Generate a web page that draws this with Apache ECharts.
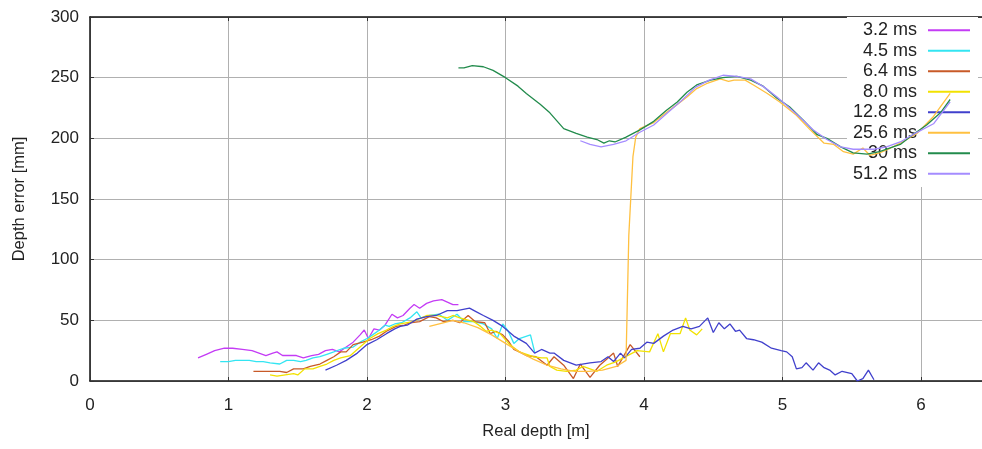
<!DOCTYPE html>
<html>
<head>
<meta charset="utf-8">
<script src="https://cdn.jsdelivr.net/npm/echarts@6/dist/echarts.min.js"></script>
<style>
  html, body { margin: 0; padding: 0; background: #fff; }
  #chart { width: 982px; height: 449px; }
</style>
</head>
<body>
<div id="chart"></div>
<script>
// exposure times (legend)
var names = ['3.2 ms', '4.5 ms', '6.4 ms', '8.0 ms', '12.8 ms', '25.6 ms', '30 ms', '51.2 ms'];
var colors = ['#c43cf5', '#33e5f2', '#c85a28', '#f2e200', '#4040cc', '#ffc040', '#228b4c', '#a58cff'];
var xTicks = [0, 1, 2, 3, 4, 5, 6];
var yTicks = [0, 50, 100, 150, 200, 250, 300];

// [real depth m, depth error mm]
var d32 = [[0.78,19],[0.84,22],[0.9,25],[0.97,27],[1.03,27],[1.1,26],[1.17,25],[1.22,23],[1.27,21],[1.32,23],[1.35,24],[1.39,21],[1.44,21],[1.49,21],[1.54,19],[1.6,21],[1.65,22],[1.7,25],[1.75,26],[1.8,24],[1.85,28],[1.9,32],[1.95,38],[1.98,42],[2.01,35],[2.05,43],[2.09,42],[2.13,46],[2.18,55],[2.22,52],[2.26,54],[2.31,60],[2.34,63],[2.38,60],[2.43,64],[2.48,66],[2.54,67],[2.58,65],[2.62,63],[2.66,63]];
var d45 = [[0.94,16],[1.0,16],[1.05,17],[1.1,17],[1.15,17],[1.2,16],[1.25,16],[1.3,15],[1.37,14],[1.42,17],[1.47,17],[1.52,16],[1.56,17],[1.61,19],[1.66,20],[1.71,22],[1.76,24],[1.83,27],[1.9,28],[1.95,32],[2.0,35],[2.04,38],[2.09,42],[2.13,46],[2.16,45],[2.2,47],[2.25,48],[2.31,52],[2.36,57],[2.39,52],[2.45,54],[2.52,55],[2.58,50],[2.65,55],[2.7,49],[2.77,49],[2.84,47],[2.9,43],[2.94,35],[2.98,47],[3.02,41],[3.06,31],[3.1,35],[3.18,38],[3.21,24]];
var d64 = [[1.18,8],[1.28,8],[1.37,8],[1.42,7],[1.47,10],[1.54,10],[1.59,12],[1.66,14],[1.71,17],[1.76,20],[1.81,24],[1.85,24],[1.9,30],[1.97,32],[2.03,34],[2.09,37],[2.14,41],[2.21,45],[2.27,46],[2.31,48],[2.38,49],[2.45,53],[2.5,52],[2.55,49],[2.62,50],[2.67,48],[2.73,54],[2.78,49],[2.85,48],[2.89,39],[2.93,41],[2.98,38],[3.02,33],[3.06,26],[3.1,24],[3.15,21],[3.22,20],[3.3,13],[3.35,20],[3.42,13],[3.49,2],[3.54,14],[3.61,3],[3.68,13],[3.73,18],[3.78,23],[3.81,12],[3.86,22],[3.9,30],[3.97,20]];
var d80 = [[1.3,5],[1.35,4],[1.41,5],[1.47,6],[1.5,5],[1.55,10],[1.61,10],[1.66,12],[1.71,14],[1.76,17],[1.81,19],[1.88,21],[1.95,28],[2.02,35],[2.08,39],[2.14,42],[2.19,45],[2.24,47],[2.33,49],[2.43,54],[2.5,54],[2.58,52],[2.62,54],[2.67,52],[2.77,49],[2.82,45],[2.86,41],[2.9,42],[2.96,39],[3.03,30],[3.1,24],[3.2,20],[3.26,19],[3.3,19],[3.32,12],[3.37,9],[3.44,8],[3.51,9],[3.56,12],[3.61,10],[3.66,8],[3.73,13],[3.8,16],[3.85,19],[3.95,25],[4.04,24],[4.1,39],[4.14,24],[4.19,39],[4.26,39],[4.3,52],[4.33,42],[4.38,38],[4.42,43]];
var d128 = [[1.7,9],[1.78,13],[1.85,17],[1.93,23],[2.0,30],[2.07,34],[2.14,39],[2.2,43],[2.24,45],[2.29,46],[2.36,51],[2.43,53],[2.5,54],[2.58,58],[2.65,58],[2.74,60],[2.79,57],[2.84,54],[2.91,50],[2.98,45],[3.06,37],[3.15,31],[3.21,23],[3.26,26],[3.32,23],[3.35,23],[3.42,17],[3.51,13],[3.61,15],[3.69,16],[3.74,20],[3.78,16],[3.83,23],[3.86,19],[3.91,26],[3.97,27],[4.02,32],[4.07,31],[4.14,37],[4.21,42],[4.28,45],[4.34,43],[4.4,45],[4.46,52],[4.5,40],[4.54,48],[4.58,43],[4.62,47],[4.66,41],[4.69,42],[4.74,35],[4.79,34],[4.85,32],[4.92,27],[4.99,25],[5.03,24],[5.07,20],[5.1,10],[5.14,11],[5.17,15],[5.22,9],[5.26,15],[5.3,11],[5.34,9],[5.38,5],[5.43,8],[5.5,6],[5.54,0],[5.58,2],[5.62,9],[5.66,1]];
var d256 = [[2.45,45],[2.55,48],[2.62,50],[2.7,48],[2.8,44],[2.9,38],[3.0,31],[3.1,24],[3.2,18],[3.3,13],[3.4,10],[3.5,8],[3.6,8],[3.7,9],[3.8,12],[3.87,17],[3.89,120],[3.92,185],[3.94,201],[3.97,208],[4.07,213],[4.16,221],[4.24,228],[4.31,234],[4.38,241],[4.45,245],[4.55,249],[4.61,247],[4.65,248],[4.73,248],[4.79,244],[4.89,237],[4.98,230],[5.1,219],[5.2,207],[5.3,196],[5.37,195],[5.44,189],[5.51,187],[5.58,192],[5.63,186],[5.7,188],[5.78,192],[5.85,196],[5.97,204],[6.09,218],[6.21,237]];
var d30 = [[2.66,258],[2.7,258],[2.76,260],[2.84,259],[2.91,256],[3.0,250],[3.09,243],[3.15,237],[3.25,228],[3.32,221],[3.42,208],[3.51,204],[3.59,201],[3.66,199],[3.71,196],[3.75,198],[3.79,197],[3.87,201],[3.97,207],[4.07,214],[4.16,223],[4.24,230],[4.31,238],[4.38,244],[4.48,248],[4.57,250],[4.67,251],[4.77,248],[4.86,243],[4.96,233],[5.05,226],[5.15,215],[5.25,203],[5.32,200],[5.42,193],[5.51,188],[5.61,187],[5.7,189],[5.85,195],[5.94,203],[6.04,211],[6.14,221],[6.21,232]];
var d512 = [[3.54,198],[3.61,195],[3.69,193],[3.78,195],[3.87,198],[3.97,205],[4.07,211],[4.17,221],[4.27,231],[4.37,242],[4.47,248],[4.57,252],[4.67,251],[4.77,249],[4.87,242],[4.96,234],[5.1,220],[5.22,207],[5.32,199],[5.42,193],[5.51,191],[5.66,191],[5.75,193],[5.85,197],[5.94,203],[6.09,212],[6.21,230]];
var seriesData = [d32, d45, d64, d80, d128, d256, d30, d512];

var chart = echarts.init(document.getElementById('chart'), null, { renderer: 'canvas' });
var font = 'Liberation Sans, Arial, sans-serif';

var series = names.map(function (n, i) {
    return {
        name: n,
        type: 'line',
        data: seriesData[i],
        symbol: 'none',
        smooth: false,
        z: 3,
        color: colors[i],
        lineStyle: { width: 1.3, color: colors[i] }
    };
});

var option = {
    animation: false,
    backgroundColor: '#fff',
    grid: { left: 90, right: 0, top: 17, bottom: 68 },
    legend: {
        data: names,
        orient: 'vertical',
        align: 'right',
        right: 4,
        top: 17,
        z: 1,
        backgroundColor: '#fff',
        padding: [3, 8, 3, 6],
        itemGap: 0,
        icon: 'rect',
        itemWidth: 42,
        itemHeight: 2,
        textStyle: { fontFamily: font, fontSize: 18, color: '#222', lineHeight: 20.5, padding: [0, 6, 0, 0] }
    },
    xAxis: [{
        type: 'value',
        min: 0,
        max: 6.44,
        interval: 1,
        name: 'Real depth [m]',
        nameLocation: 'middle',
        nameGap: 42,
        nameTextStyle: { fontFamily: font, fontSize: 16.5, color: '#222' },
        axisLine: { show: true, onZero: false, lineStyle: { color: '#111', width: 1.5 } },
        axisTick: { show: true, inside: true, length: 4, lineStyle: { color: '#333' } },
        axisLabel: { fontFamily: font, fontSize: 17, color: '#222', margin: 16, showMaxLabel: false },
        splitLine: { show: true, lineStyle: { color: '#b0b0b0', width: 1 } }
    }, {
        type: 'value',
        position: 'top',
        min: 0,
        max: 6.44,
        interval: 1,
        axisLine: { show: true, onZero: false, lineStyle: { color: '#111', width: 1.5 } },
        axisTick: { show: true, inside: true, length: 4, lineStyle: { color: '#333' } },
        axisLabel: { show: false },
        splitLine: { show: false }
    }],
    yAxis: {
        type: 'value',
        min: 0,
        max: 300,
        interval: 50,
        name: 'Depth error [mm]',
        nameLocation: 'middle',
        nameGap: 62,
        nameTextStyle: { fontFamily: font, fontSize: 16.5, color: '#222' },
        axisLine: { show: true, onZero: false, lineStyle: { color: '#111', width: 1.5 } },
        axisTick: { show: true, inside: true, length: 4, lineStyle: { color: '#333' } },
        axisLabel: { fontFamily: font, fontSize: 17, color: '#222', margin: 11 },
        splitLine: { show: true, lineStyle: { color: '#b0b0b0', width: 1 } }
    },
    series: series
};

chart.setOption(option);
</script>
</body>
</html>
